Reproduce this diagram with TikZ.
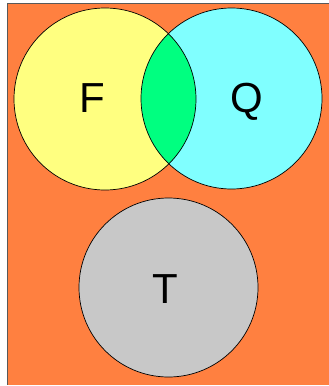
\documentclass[tikz,border=0pt]{standalone}
\usepackage{fontspec}
\setmainfont{Liberation Sans}
\definecolor{bgorange}{HTML}{FF8040}
\definecolor{fyellow}{HTML}{FFFF80}
\definecolor{qcyan}{HTML}{80FFFF}
\definecolor{lensgreen}{HTML}{00FF80}
\definecolor{tgray}{HTML}{C8C8C8}
\tikzset{
  setletter/.style={font=\fontsize{42}{42}\selectfont, inner sep=0pt, anchor=base}
}
\begin{document}
\begin{tikzpicture}[x=1pt, y=-1pt]
      \useasboundingbox (0,0) rectangle (329,386);
      \fill[bgorange] (7.5,3) rectangle (329,384.5);
      \draw[gray!70!black, line width=0.8pt] (7.5,384.5) -- (7.5,3) -- (329,3);
      % the three sets
      \coordinate (cF) at (105,99);
      \coordinate (cQ) at (231.5,98.5);
      \coordinate (cT) at (168.5,287.5);
      \fill[fyellow] (cF) circle (91);
      \fill[qcyan] (cQ) circle (90.5);
      \begin{scope}
        \clip (cF) circle (91);
        \fill[lensgreen] (cQ) circle (90.5);
      \end{scope}
      \fill[tgray] (cT) circle (89.5);
      \begin{scope}[black, line width=0.7pt]
        \draw (cF) circle (91);
        \draw (cQ) circle (90.5);
        \draw (cT) circle (89.5);
      \end{scope}
      % labels
      \node[setletter] (F) at (92.5,112.5) {F};
      \node[setletter] (Q) at (246.5,112.5) {Q};
      \node[setletter] (T) at (165,303) {T};
    \end{tikzpicture}
\end{document}
